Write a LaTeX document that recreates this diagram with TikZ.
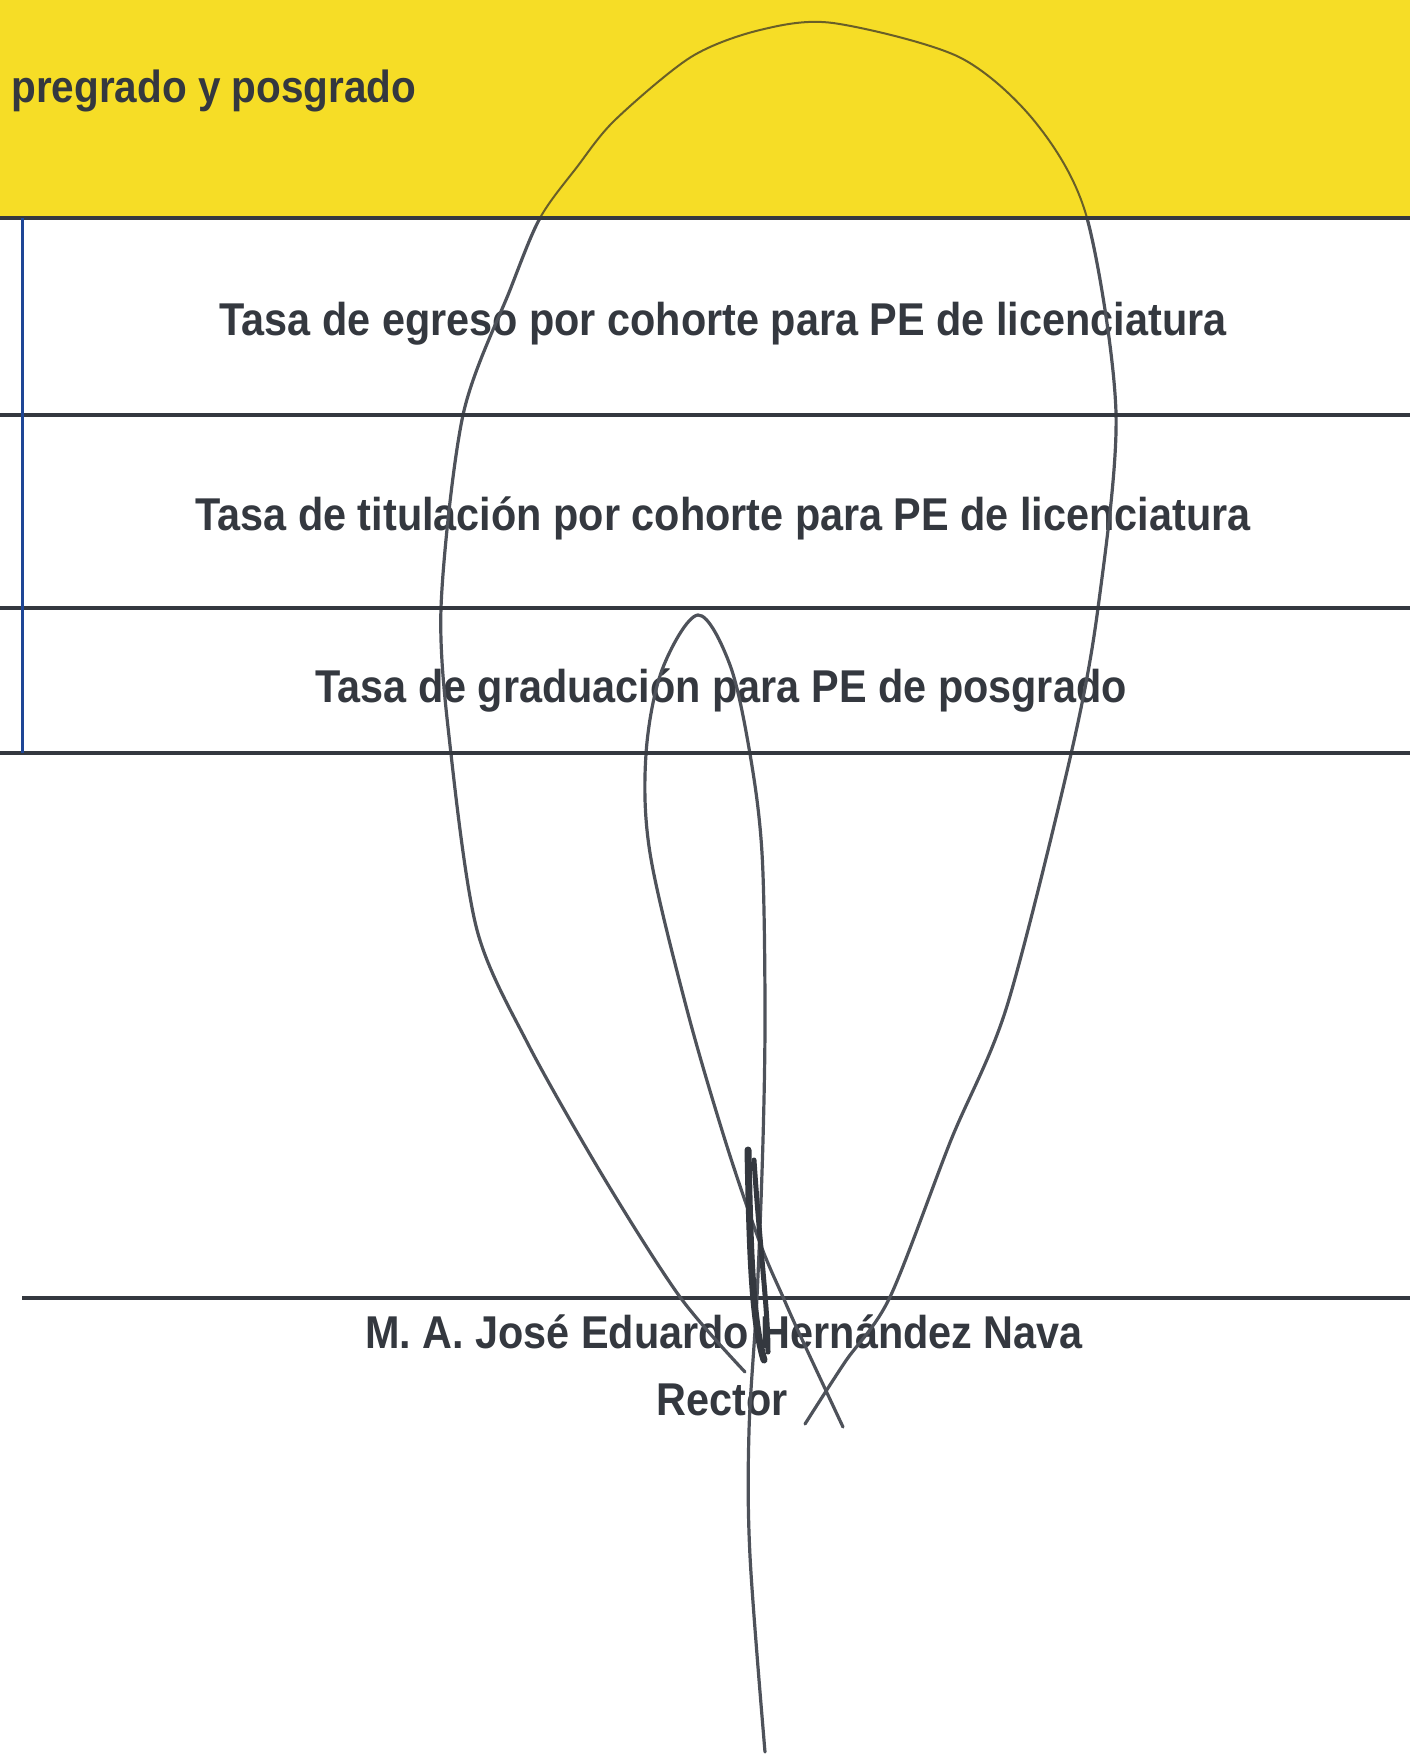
\documentclass[tikz,border=0pt]{standalone}
\usepackage{fontspec}
\setmainfont[FakeStretch=0.9]{Liberation Sans}
\definecolor{bandyellow}{RGB}{246,221,38}
\definecolor{inkgrey}{RGB}{52,56,63}
\definecolor{ruleblue}{RGB}{30,70,150}
\definecolor{siggrey}{RGB}{78,82,90}
\definecolor{sigolive}{RGB}{105,95,40}
\begin{document}
\begin{tikzpicture}[x=0.5pt, y=-0.5pt,
  every node/.style={text=inkgrey, font=\bfseries\fontsize{23}{27}\selectfont, inner sep=0pt},
  rule/.style={line width=2pt, draw=inkgrey},
  sig/.style={line width=1.6pt, draw=siggrey, line cap=round, line join=round}]
\useasboundingbox (0,0) rectangle (1410,1758);
% Header band
\fill[bandyellow] (0,0) rectangle (1410,218);
\node[anchor=base west, font=\bfseries\fontsize{22.5}{26}\selectfont] (head) at (11,102) {pregrado y posgrado};
% Rows
\node[anchor=base] (egreso) at (723,335) {Tasa de egreso por cohorte para PE de licenciatura};
\node[anchor=base] (titulacion) at (723,530) {Tasa de titulación por cohorte para PE de licenciatura};
\node[anchor=base] (graduacion) at (721,702) {Tasa de graduación para PE de posgrado};
% Signature line
\draw[line width=1.6pt, inkgrey] (22,1298) -- (1410,1298);
\node[anchor=base] (nombre) at (724,1348) {M. A. José Eduardo Hernández Nava};
\node[anchor=base] (cargo) at (722,1415) {Rector};
% Signature, outer loop
\def\outerloop{plot[smooth, tension=0.5] coordinates {(745,1372) (680,1297) (604,1178) (528,1044)
  (477,930) (451,754) (441,608) (463,415) (510,290) (540,218) (577,167) (615,120) (691,57)
  (760,30) (833,23) (959,57) (1036,123) (1087,218) (1116,413) (1098,608) (1071,754)
  (1007,1006) (951,1140) (890,1297) (845,1362) (805,1424)}}
\begin{scope}
\clip (0,0) rectangle (1410,218);
\draw[sig, line width=1pt, sigolive] \outerloop;
\end{scope}
\begin{scope}
\clip (0,218) rectangle (1410,1758);
\draw[sig] \outerloop;
\end{scope}
% Signature, inner loop and tail
\draw[sig] plot[smooth, tension=0.55] coordinates {(843,1427) (800,1335) (783,1297) (760,1243)
  (725,1140) (686,1006) (650,853) (646,754) (662,670) (698,615) (730,665) (750,754) (762,853)
  (765,1006) (763,1140) (757,1297) (749,1431) (750,1556) (765,1752)};
% Signature, dense stroke
\draw[sig, line width=3.5pt, inkgrey] (748,1150) .. controls (750,1250) and (752,1320) .. (764,1360);
\draw[sig, line width=2.5pt, inkgrey] (754,1160) .. controls (760,1250) and (768,1310) .. (768,1352);
% Table rules
\draw[rule] (0,218) -- (1410,218);
\draw[rule] (0,415) -- (1410,415);
\draw[rule] (0,608) -- (1410,608);
\draw[rule] (0,753) -- (1410,753);
\draw[line width=1.5pt, ruleblue] (22,218) -- (22,753);
\end{tikzpicture}
\end{document}
